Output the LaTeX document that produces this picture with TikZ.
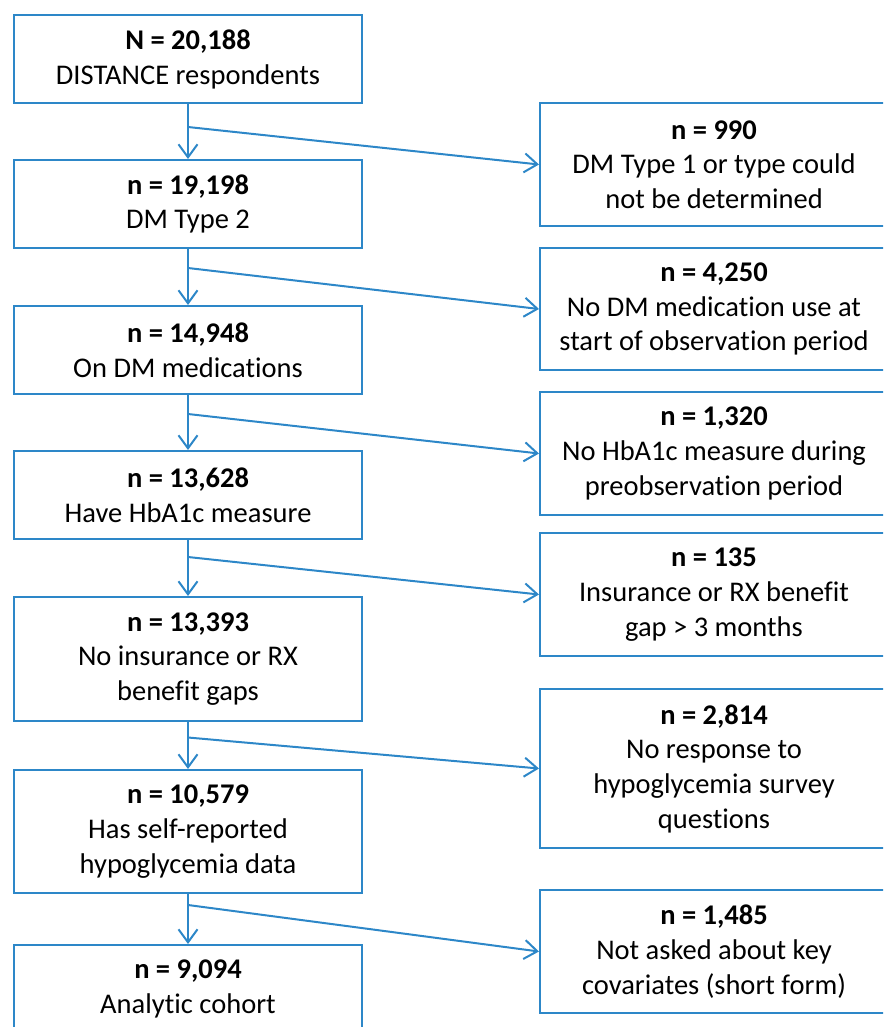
\documentclass[tikz,border=0pt]{standalone}
\usepackage{fontspec}
\setmainfont{Carlito}[Ligatures=NoCommon]
\usetikzlibrary{arrows.meta}
\definecolor{flowblue}{RGB}{45,135,200}
\begin{document}
\begin{tikzpicture}[x=1pt,y=-1pt,
  box/.style={draw=flowblue, line width=2pt, minimum width=348pt, align=center,
    font=\fontsize{28.5}{34.7}\selectfont, inner sep=0pt, text=black},
  conn/.style={draw=flowblue, line width=2pt, -{Straight Barb[length=13pt,width=19pt]}}]
\useasboundingbox (0,0) rectangle (883,1027);
\clip (0,0) rectangle (883,1027);
% left column
\node[box, minimum height=88pt]  (b1) at (188,59.5)  {\textbf{N = 20,188}\\DISTANCE respondents};
\node[box, minimum height=88pt]  (b2) at (188,204)   {\textbf{n = 19,198}\\DM Type 2};
\node[box, minimum height=88pt]  (b3) at (188,350)   {\textbf{n = 14,948}\\On DM medications};
\node[box, minimum height=88pt]  (b4) at (188,495)   {\textbf{n = 13,628}\\Have HbA1c measure};
\node[box, minimum height=124pt] (b5) at (188,659)   {\textbf{n = 13,393}\\No insurance or RX\\benefit gaps};
\node[box, minimum height=123pt] (b6) at (188,831.5) {\textbf{n = 10,579}\\Has self-reported\\hypoglycemia data};
\node[box, minimum height=88pt]  (b7) at (188,989)   {\textbf{n = 9,094}\\Analytic cohort};
% right column
\node[box, minimum height=123pt] (r1) at (714,164.5) {\textbf{n = 990}\\DM Type 1 or type could\\not be determined};
\node[box, minimum height=122pt] (r2) at (714,309)   {\textbf{n = 4,250}\\No DM medication use at\\start of observation period};
\node[box, minimum height=123pt] (r3) at (714,453.5) {\textbf{n = 1,320}\\No HbA1c measure during\\preobservation period};
\node[box, minimum height=123pt] (r4) at (714,594.5) {\textbf{n = 135}\\Insurance or RX benefit\\gap > 3 months};
\node[box, minimum height=159pt] (r5) at (714,768.5) {\textbf{n = 2,814}\\No response to\\hypoglycemia survey\\questions};
\node[box, minimum height=123pt] (r6) at (714,951.5) {\textbf{n = 1,485}\\Not asked about key\\covariates (short form)};
% junctions
\coordinate (j1) at (188,127);
\coordinate (j2) at (188,268);
\coordinate (j3) at (188,414);
\coordinate (j4) at (188,557);
\coordinate (j5) at (188,737.5);
\coordinate (j6) at (188,905);
% connectors
\draw[conn] (b1.south) -- (b2.north);
\draw[conn] (b2.south) -- (b3.north);
\draw[conn] (b3.south) -- (b4.north);
\draw[conn] (b4.south) -- (b5.north);
\draw[conn] (b5.south) -- (b6.north);
\draw[conn] (b6.south) -- (b7.north);
\draw[conn] (j1) -- (r1.west);
\draw[conn] (j2) -- (r2.west);
\draw[conn] (j3) -- (r3.west);
\draw[conn] (j4) -- (r4.west);
\draw[conn] (j5) -- (r5.west);
\draw[conn] (j6) -- (r6.west);
\end{tikzpicture}
\end{document}
